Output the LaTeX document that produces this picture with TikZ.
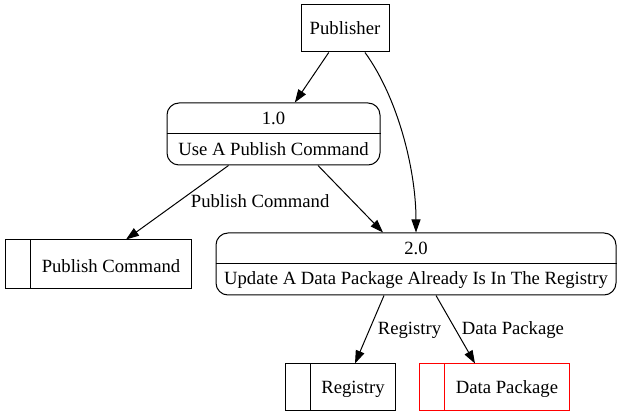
\documentclass[tikz,border=0pt]{standalone}
\usepackage{fontspec}
\setmainfont{Liberation Serif}
\usetikzlibrary{arrows.meta,positioning,calc}

\newcommand{\lowertext}[1]{\raisebox{-2pt}[\height][\depth]{#1}}

\begin{document}
\begin{tikzpicture}[x=1pt,y=-1pt,line width=1pt,
  font=\fontsize{18.67}{22}\selectfont,
  >={Triangle[length=13pt,width=9pt]},
  entity/.style={rectangle, draw, minimum width=88pt, minimum height=47pt},
  process/.style={rectangle, draw, rounded corners=12pt, minimum height=62pt},
  datastore/.style={rectangle, draw, minimum height=47pt, inner xsep=0pt},
  lbl/.style={right, inner sep=2pt, xshift=5pt, yshift=-3pt}]
\useasboundingbox (0,0) rectangle (624,419);

\node[entity] (pub) at (345,28.5) {Publisher};

\node[process, minimum width=213pt] (p1) at (273.5,134) {};
\draw (p1.west) -- (p1.east);
\node (p1num) at (273.5,118) {1.0};
\node (p1txt) at (273.5,149) {Use A Publish Command};

\node[process, minimum width=400pt] (p2) at (416,264) {};
\draw (p2.west) -- (p2.east);
\node (p2num) at (416,248) {2.0};
\node (p2txt) at (416,280) {Update A Data Package Already Is In The Registry};

\node[datastore, minimum width=186pt, minimum height=49pt] (cmd) at (98,264.5) {\hspace*{26pt}\lowertext{Publish Command}};
\draw ([xshift=26pt]cmd.north west) -- ([xshift=26pt]cmd.south west);
\node[datastore, minimum width=110pt] (reg) at (340,387.5) {\hspace*{26pt}\lowertext{Registry}};
\draw ([xshift=26pt]reg.north west) -- ([xshift=26pt]reg.south west);
\node[datastore, draw=red, minimum width=150pt] (pkg) at (494,387.5) {\hspace*{26pt}\lowertext{Data Package}};
\draw[red] ([xshift=26pt]pkg.north west) -- ([xshift=26pt]pkg.south west);

\draw[->] (pub) -- (p1);
\draw[->] ([xshift=20pt]pub.south) .. controls (398,98) and (416,170) .. (p2.north);
\draw[->] ([xshift=-45pt]p1.south) -- node[lbl, pos=0.44] {Publish Command} ([xshift=28pt]cmd.north);
\draw[->] ([xshift=44.5pt]p1.south) -- ([xshift=-33pt]p2.north);
\draw[->] ([xshift=-32pt]p2.south) -- node[lbl, pos=0.47] {Registry} ([xshift=15pt]reg.north);
\draw[->] ([xshift=20pt]p2.south) -- node[lbl, pos=0.47] {Data Package} ([xshift=-19pt]pkg.north);
\end{tikzpicture}
\end{document}
